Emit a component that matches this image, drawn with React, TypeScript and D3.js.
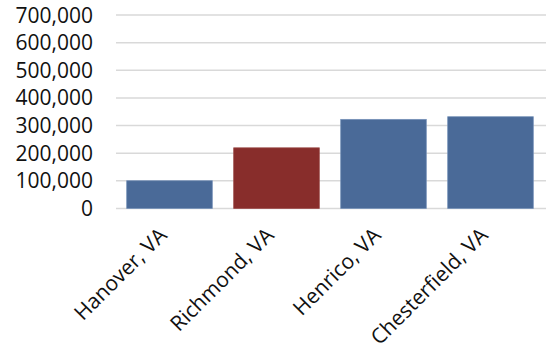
import { max, scaleBand, scaleLinear } from 'd3'

const localities = ['Hanover, VA', 'Richmond, VA', 'Henrico, VA', 'Chesterfield, VA']
const population = [100500, 219500, 322500, 332000]
const highlighted = ['Richmond, VA']
const yTicks = [0, 100000, 200000, 300000, 400000, 500000, 600000, 700000]

const width = 546
const height = 356
const plotLeft = 116
const plotRight = 544
const plotTop = 15
const plotBottom = 208.5
const fontFamily = '"Open Sans", "Noto Sans", sans-serif'

const formatTick = (value: number) => value.toLocaleString('en-US')

export default function App() {
  const xScale = scaleBand<string>()
    .domain(localities)
    .range([plotLeft, plotRight])
    .paddingInner(0.2)
    .paddingOuter(0.1)
  const yScale = scaleLinear()
    .domain([0, max(yTicks) ?? 700000])
    .range([plotBottom, plotTop])

  return (
    <svg
      width={width}
      height={height}
      viewBox={`0 0 ${width} ${height}`}
      style={{ position: 'absolute', left: 0, top: 0, background: '#fff' }}
      fontFamily={fontFamily}
    >
      {yTicks.map((tick) => (
        <g key={tick}>
          <line
            x1={plotLeft}
            x2={width}
            y1={yScale(tick)}
            y2={yScale(tick)}
            stroke="#d9d9d9"
            strokeWidth={1.5}
          />
          <text
            x={93}
            y={yScale(tick)}
            dy="0.36em"
            textAnchor="end"
            fontSize={21}
            fill="#111"
          >
            {formatTick(tick)}
          </text>
        </g>
      ))}

      {localities.map((name, index) => {
        const x = xScale(name) ?? 0
        const y = yScale(population[index])
        const isHighlighted = highlighted.includes(name)
        return (
          <rect
            key={name}
            x={x}
            y={y}
            width={xScale.bandwidth()}
            height={plotBottom - y}
            fill={isHighlighted ? '#882d2b' : '#4a6a98'}
            stroke={isHighlighted ? '#9a4a48' : '#7591b8'}
            strokeWidth={0.75}
          />
        )
      })}

      {localities.map((name) => {
        const cx = (xScale(name) ?? 0) + xScale.bandwidth() / 2
        return (
          <text
            key={name}
            transform={`translate(${cx - 12}, 226) rotate(-45)`}
            textAnchor="end"
            dy="0.71em"
            fontSize={21}
            fill="#111"
          >
            {name}
          </text>
        )
      })}
    </svg>
  )
}
